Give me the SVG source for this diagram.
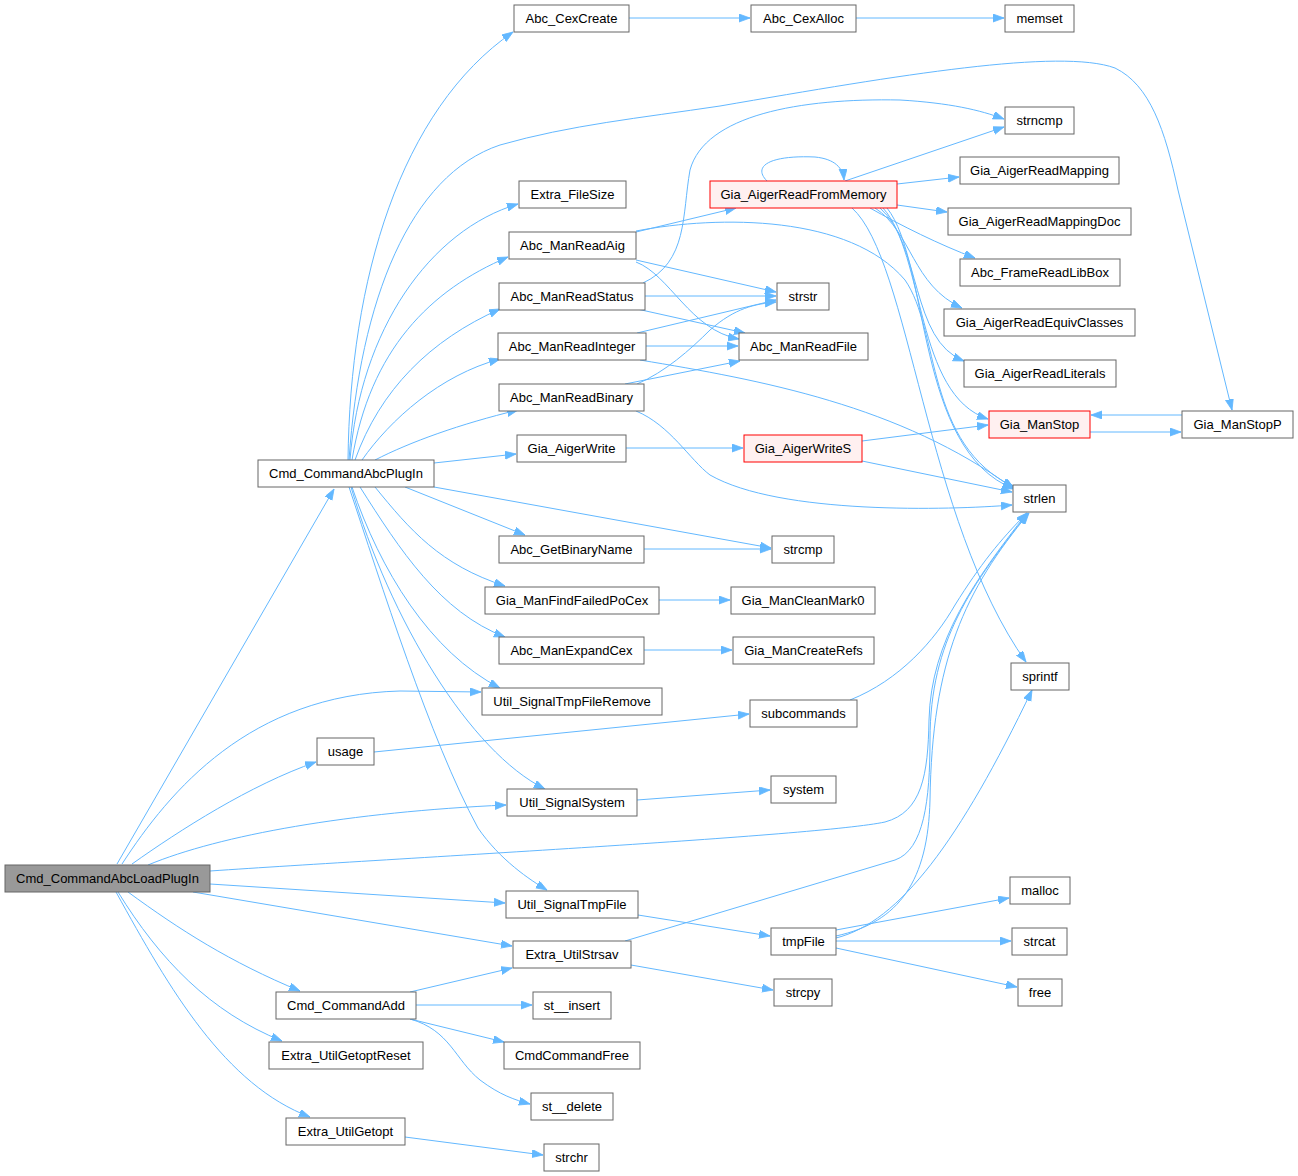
<svg xmlns="http://www.w3.org/2000/svg" width="1298" height="1176" viewBox="0 0 1298 1176">
<defs>
<marker id="ah" markerWidth="12" markerHeight="9" refX="11" refY="4" orient="auto" markerUnits="userSpaceOnUse"><path d="M0,0 L11,4 L0,8 z" fill="#63b8ff" stroke="#63b8ff" stroke-width="0.8"/></marker>
</defs>
<style>
.n rect{fill:#ffffff;stroke:#666666;stroke-width:1}
.n.root rect{fill:#999999;stroke:#666666}
.n.red rect{fill:#fff0f0;stroke:#ff0000}
.n text{font-family:"Liberation Sans",Arial,Helvetica,sans-serif;font-size:13px;fill:#000000;text-anchor:middle}
.e path{fill:none;stroke:#63b8ff;stroke-width:1;marker-end:url(#ah)}
</style>
<rect width="1298" height="1176" fill="#ffffff"/>
<g id="edges" class="e">
<path d="M117,864 L334,489"/>
<path d="M122,864 C170,790 250,695 400,691 L481,692"/>
<path d="M132,864 C180,830 250,785 316,762"/>
<path d="M148,865 C220,835 350,812 506,805"/>
<path d="M210,871 C400,858 820,836 885,822 C922,812 928,775 929,720 C931,640 975,580 1027,513"/>
<path d="M210,884 L505,903"/>
<path d="M193,892 L512,946"/>
<path d="M128,892 C180,930 230,962 300,991"/>
<path d="M118,892 C160,960 210,1012 282,1041"/>
<path d="M116,892 C170,990 225,1085 310,1117"/>
<path d="M348,460 C350,280 400,110 513,32"/>
<path d="M349,460 C360,300 410,175 500,145 C570,125 640,118 720,106 C900,75 1060,48 1115,68 C1150,85 1165,130 1178,190 L1232,410"/>
<path d="M350,460 C360,330 430,230 518,204"/>
<path d="M352,460 C370,350 430,290 508,257"/>
<path d="M355,460 C380,390 430,340 500,309"/>
<path d="M362,460 C390,420 440,375 500,359"/>
<path d="M375,460 C410,442 460,424 518,410"/>
<path d="M434,463 L516,454"/>
<path d="M434,487 L771,548"/>
<path d="M405,487 L525,535"/>
<path d="M375,487 C410,530 440,565 505,586"/>
<path d="M360,487 C400,550 440,612 505,637"/>
<path d="M352,487 C380,570 430,652 500,688"/>
<path d="M351,487 C390,620 470,752 545,789"/>
<path d="M349,487 C380,580 430,740 478,828 C500,860 530,880 547,890"/>
<path d="M629,18 L750,18"/>
<path d="M856,18 L1004,18"/>
<path d="M643,283 C688,262 682,215 690,170 C705,115 800,98 900,100 C950,103 980,110 1004,119"/>
<path d="M845,181 L1004,127"/>
<path d="M767,181 C752,166 770,155 815,157 C835,159 843,168 844,180"/>
<path d="M897,184 L959,177"/>
<path d="M897,205 L947,212"/>
<path d="M870,208 C900,225 940,245 975,258"/>
<path d="M875,208 C912,232 912,285 962,308"/>
<path d="M880,208 C922,245 910,340 964,361"/>
<path d="M883,208 C925,255 915,395 988,419"/>
<path d="M887,208 C930,262 915,450 1014,489"/>
<path d="M852,208 C910,260 925,520 1026,662"/>
<path d="M636,232 L736,208"/>
<path d="M636,231 C720,215 850,215 905,280 C940,330 925,445 1014,487"/>
<path d="M636,260 L776,292"/>
<path d="M636,262 C670,275 690,330 739,339"/>
<path d="M645,296 L776,296"/>
<path d="M637,309 L745,333"/>
<path d="M637,333 L776,300"/>
<path d="M646,346 L738,346"/>
<path d="M640,360 C760,380 900,405 1014,489"/>
<path d="M637,384 C665,372 690,350 710,330 C735,308 755,304 776,302"/>
<path d="M625,384 L740,361"/>
<path d="M636,411 C670,425 690,460 710,475 C780,515 950,510 1012,505"/>
<path d="M626,448 L743,448"/>
<path d="M862,441 L988,425"/>
<path d="M862,461 L1012,492"/>
<path d="M1090,432 L1181,432"/>
<path d="M1182,415 L1091,415"/>
<path d="M644,549 L771,549"/>
<path d="M659,600 L730,600"/>
<path d="M644,650 L732,650"/>
<path d="M374,752 L749,714"/>
<path d="M850,700 C900,680 935,640 955,605 C980,565 1000,540 1027,513"/>
<path d="M637,800 L770,790"/>
<path d="M638,915 L770,936"/>
<path d="M625,941 L895,860 C924,850 930,800 930,740 C930,640 972,585 1028,513"/>
<path d="M631,965 L773,990"/>
<path d="M836,936 C900,922 928,880 930,800 C932,660 965,590 1029,513"/>
<path d="M836,938 C900,922 960,840 1032,690"/>
<path d="M836,930 L1009,898"/>
<path d="M836,941 L1011,941"/>
<path d="M836,948 L1017,987"/>
<path d="M410,992 L512,968"/>
<path d="M416,1005 L532,1005"/>
<path d="M410,1019 L504,1042"/>
<path d="M410,1019 C450,1030 455,1060 480,1080 C500,1095 515,1100 530,1104"/>
<path d="M405,1137 L543,1155"/>
</g>
<g id="n0" class="n root"><rect x="5" y="865" width="205" height="27"/><text x="107.5" y="883">Cmd_CommandAbcLoadPlugIn</text></g>
<g id="n1" class="n"><rect x="258" y="460" width="176" height="27"/><text x="346" y="478">Cmd_CommandAbcPlugIn</text></g>
<g id="n2" class="n"><rect x="514" y="5" width="115" height="27"/><text x="571.5" y="23">Abc_CexCreate</text></g>
<g id="n3" class="n"><rect x="751" y="5" width="105" height="27"/><text x="803.5" y="23">Abc_CexAlloc</text></g>
<g id="n4" class="n"><rect x="1005" y="5" width="69" height="27"/><text x="1039.5" y="23">memset</text></g>
<g id="n5" class="n"><rect x="1182" y="411" width="111" height="27"/><text x="1237.5" y="429">Gia_ManStopP</text></g>
<g id="n6" class="n"><rect x="519" y="181" width="107" height="27"/><text x="572.5" y="199">Extra_FileSize</text></g>
<g id="n7" class="n"><rect x="509" y="232" width="127" height="27"/><text x="572.5" y="250">Abc_ManReadAig</text></g>
<g id="n8" class="n red"><rect x="710" y="181" width="187" height="27"/><text x="803.5" y="199">Gia_AigerReadFromMemory</text></g>
<g id="n9" class="n"><rect x="1005" y="107" width="69" height="27"/><text x="1039.5" y="125">strncmp</text></g>
<g id="n10" class="n"><rect x="960" y="157" width="159" height="27"/><text x="1039.5" y="175">Gia_AigerReadMapping</text></g>
<g id="n11" class="n"><rect x="948" y="208" width="183" height="27"/><text x="1039.5" y="226">Gia_AigerReadMappingDoc</text></g>
<g id="n12" class="n"><rect x="960" y="259" width="160" height="27"/><text x="1040" y="277">Abc_FrameReadLibBox</text></g>
<g id="n13" class="n"><rect x="944" y="309" width="191" height="27"/><text x="1039.5" y="327">Gia_AigerReadEquivClasses</text></g>
<g id="n14" class="n"><rect x="964" y="360" width="152" height="27"/><text x="1040" y="378">Gia_AigerReadLiterals</text></g>
<g id="n15" class="n red"><rect x="989" y="411" width="101" height="27"/><text x="1039.5" y="429">Gia_ManStop</text></g>
<g id="n16" class="n"><rect x="1013" y="485" width="53" height="27"/><text x="1039.5" y="503">strlen</text></g>
<g id="n17" class="n"><rect x="1011" y="663" width="58" height="27"/><text x="1040" y="681">sprintf</text></g>
<g id="n18" class="n"><rect x="499" y="283" width="146" height="27"/><text x="572" y="301">Abc_ManReadStatus</text></g>
<g id="n19" class="n"><rect x="777" y="283" width="52" height="27"/><text x="803" y="301">strstr</text></g>
<g id="n20" class="n"><rect x="498" y="333" width="148" height="27"/><text x="572" y="351">Abc_ManReadInteger</text></g>
<g id="n21" class="n"><rect x="739" y="333" width="129" height="27"/><text x="803.5" y="351">Abc_ManReadFile</text></g>
<g id="n22" class="n"><rect x="499" y="384" width="145" height="27"/><text x="571.5" y="402">Abc_ManReadBinary</text></g>
<g id="n23" class="n"><rect x="517" y="435" width="109" height="27"/><text x="571.5" y="453">Gia_AigerWrite</text></g>
<g id="n24" class="n red"><rect x="744" y="435" width="118" height="27"/><text x="803" y="453">Gia_AigerWriteS</text></g>
<g id="n25" class="n"><rect x="499" y="536" width="145" height="27"/><text x="571.5" y="554">Abc_GetBinaryName</text></g>
<g id="n26" class="n"><rect x="772" y="536" width="62" height="27"/><text x="803" y="554">strcmp</text></g>
<g id="n27" class="n"><rect x="485" y="587" width="174" height="27"/><text x="572" y="605">Gia_ManFindFailedPoCex</text></g>
<g id="n28" class="n"><rect x="731" y="587" width="144" height="27"/><text x="803" y="605">Gia_ManCleanMark0</text></g>
<g id="n29" class="n"><rect x="499" y="637" width="145" height="27"/><text x="571.5" y="655">Abc_ManExpandCex</text></g>
<g id="n30" class="n"><rect x="733" y="637" width="141" height="27"/><text x="803.5" y="655">Gia_ManCreateRefs</text></g>
<g id="n31" class="n"><rect x="482" y="688" width="180" height="27"/><text x="572" y="706">Util_SignalTmpFileRemove</text></g>
<g id="n32" class="n"><rect x="317" y="738" width="57" height="27"/><text x="345.5" y="756">usage</text></g>
<g id="n33" class="n"><rect x="750" y="700" width="107" height="27"/><text x="803.5" y="718">subcommands</text></g>
<g id="n34" class="n"><rect x="507" y="789" width="130" height="27"/><text x="572" y="807">Util_SignalSystem</text></g>
<g id="n35" class="n"><rect x="771" y="776" width="65" height="27"/><text x="803.5" y="794">system</text></g>
<g id="n36" class="n"><rect x="506" y="891" width="132" height="27"/><text x="572" y="909">Util_SignalTmpFile</text></g>
<g id="n37" class="n"><rect x="771" y="928" width="65" height="27"/><text x="803.5" y="946">tmpFile</text></g>
<g id="n38" class="n"><rect x="1010" y="877" width="60" height="27"/><text x="1040" y="895">malloc</text></g>
<g id="n39" class="n"><rect x="1012" y="928" width="55" height="27"/><text x="1039.5" y="946">strcat</text></g>
<g id="n40" class="n"><rect x="1018" y="979" width="44" height="27"/><text x="1040" y="997">free</text></g>
<g id="n41" class="n"><rect x="513" y="941" width="118" height="27"/><text x="572" y="959">Extra_UtilStrsav</text></g>
<g id="n42" class="n"><rect x="774" y="979" width="58" height="27"/><text x="803" y="997">strcpy</text></g>
<g id="n43" class="n"><rect x="276" y="992" width="140" height="27"/><text x="346" y="1010">Cmd_CommandAdd</text></g>
<g id="n44" class="n"><rect x="533" y="992" width="78" height="27"/><text x="572" y="1010">st__insert</text></g>
<g id="n45" class="n"><rect x="504" y="1042" width="136" height="27"/><text x="572" y="1060">CmdCommandFree</text></g>
<g id="n46" class="n"><rect x="531" y="1093" width="82" height="27"/><text x="572" y="1111">st__delete</text></g>
<g id="n47" class="n"><rect x="269" y="1042" width="154" height="27"/><text x="346" y="1060">Extra_UtilGetoptReset</text></g>
<g id="n48" class="n"><rect x="286" y="1118" width="119" height="27"/><text x="345.5" y="1136">Extra_UtilGetopt</text></g>
<g id="n49" class="n"><rect x="544" y="1144" width="55" height="27"/><text x="571.5" y="1162">strchr</text></g>
</svg>
